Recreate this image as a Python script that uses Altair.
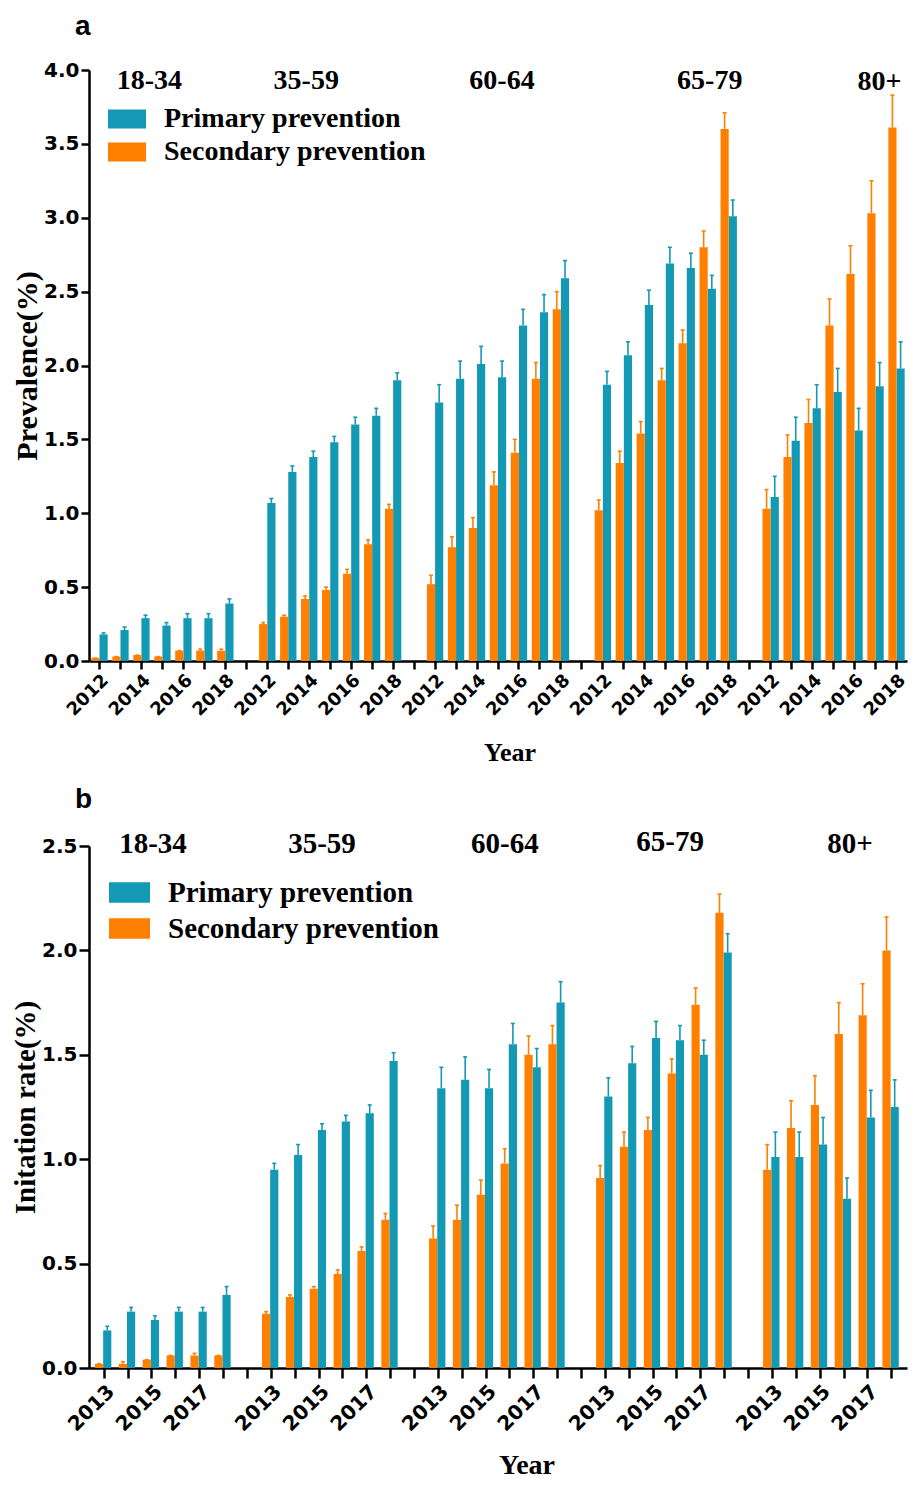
import altair as alt
import pandas as pd

# ---------------- data ----------------
groups = ["18-34", "35-59", "60-64", "65-79", "80+"]
series = ["Primary prevention", "Secondary prevention"]
years_a = [2012, 2013, 2014, 2015, 2016, 2017, 2018]
years_b = [2013, 2014, 2015, 2016, 2017, 2018]

# Panel a: prevalence (%), value and upper end of error bar
a_prim_1834 = [0.18, 0.21, 0.29, 0.24, 0.29, 0.29, 0.39]
a_prim_1834_up = [0.19, 0.23, 0.31, 0.26, 0.32, 0.32, 0.42]
a_sec_1834 = [0.02, 0.03, 0.04, 0.03, 0.07, 0.07, 0.07]
a_sec_1834_up = [0.02, 0.03, 0.04, 0.03, 0.07, 0.08, 0.08]

a_prim_3559 = [1.07, 1.28, 1.38, 1.48, 1.60, 1.66, 1.90]
a_prim_3559_up = [1.10, 1.32, 1.42, 1.52, 1.65, 1.71, 1.95]
a_sec_3559 = [0.25, 0.30, 0.42, 0.48, 0.59, 0.79, 1.03]
a_sec_3559_up = [0.26, 0.31, 0.44, 0.50, 0.62, 0.82, 1.06]

a_prim_6064 = [1.75, 1.91, 2.01, 1.92, 2.27, 2.36, 2.59]
a_prim_6064_up = [1.87, 2.03, 2.13, 2.03, 2.38, 2.48, 2.71]
a_sec_6064 = [0.52, 0.77, 0.90, 1.19, 1.41, 1.91, 2.38]
a_sec_6064_up = [0.58, 0.84, 0.97, 1.28, 1.50, 2.02, 2.50]

a_prim_6579 = [1.87, 2.07, 2.41, 2.69, 2.66, 2.52, 3.01]
a_prim_6579_up = [1.96, 2.16, 2.51, 2.80, 2.76, 2.61, 3.12]
a_sec_6579 = [1.02, 1.34, 1.54, 1.90, 2.15, 2.80, 3.60]
a_sec_6579_up = [1.09, 1.42, 1.62, 1.98, 2.24, 2.91, 3.71]

a_prim_80 = [1.11, 1.49, 1.71, 1.82, 1.56, 1.86, 1.98]
a_prim_80_up = [1.25, 1.65, 1.87, 1.98, 1.71, 2.02, 2.16]
a_sec_80 = [1.03, 1.38, 1.61, 2.27, 2.62, 3.03, 3.61]
a_sec_80_up = [1.16, 1.53, 1.77, 2.45, 2.81, 3.25, 3.83]

# Panel b: initiation rate (%)
b_prim_1834 = [0.18, 0.27, 0.23, 0.27, 0.27, 0.35]
b_prim_1834_up = [0.20, 0.29, 0.25, 0.29, 0.29, 0.39]
b_sec_1834 = [0.02, 0.02, 0.04, 0.06, 0.06, 0.06]
b_sec_1834_up = [0.02, 0.03, 0.04, 0.06, 0.07, 0.06]

b_prim_3559 = [0.95, 1.02, 1.14, 1.18, 1.22, 1.47]
b_prim_3559_up = [0.98, 1.07, 1.17, 1.21, 1.26, 1.51]
b_sec_3559 = [0.26, 0.34, 0.38, 0.45, 0.56, 0.71]
b_sec_3559_up = [0.27, 0.35, 0.39, 0.47, 0.58, 0.74]

b_prim_6064 = [1.34, 1.38, 1.34, 1.55, 1.44, 1.75]
b_prim_6064_up = [1.44, 1.49, 1.43, 1.65, 1.53, 1.85]
b_sec_6064 = [0.62, 0.71, 0.83, 0.98, 1.50, 1.55]
b_sec_6064_up = [0.68, 0.78, 0.90, 1.05, 1.59, 1.64]

b_prim_6579 = [1.30, 1.46, 1.58, 1.57, 1.50, 1.99]
b_prim_6579_up = [1.39, 1.54, 1.66, 1.64, 1.57, 2.08]
b_sec_6579 = [0.91, 1.06, 1.14, 1.41, 1.74, 2.18]
b_sec_6579_up = [0.97, 1.13, 1.20, 1.48, 1.82, 2.27]

b_prim_80 = [1.01, 1.01, 1.07, 0.81, 1.20, 1.25]
b_prim_80_up = [1.13, 1.13, 1.20, 0.91, 1.33, 1.38]
b_sec_80 = [0.95, 1.15, 1.26, 1.60, 1.69, 2.00]
b_sec_80_up = [1.07, 1.28, 1.40, 1.75, 1.84, 2.16]

# ---------------- styling ----------------
BLUE = "#1399B4"
ORANGE = "#FF8000"
SANS = "DejaVu Sans"
SERIF = "Liberation Serif"


def build(years, prim, prim_up, sec, sec_up):
    rows, domain = [], []
    for gi, g in enumerate(groups):
        if gi > 0:
            domain.append(f"gap{gi}")
        for yi, yr in enumerate(years):
            key = f"{g}|{yr}"
            domain.append(key)
            rows.append(dict(key=key, series=series[0], value=prim[gi][yi], upper=prim_up[gi][yi]))
            rows.append(dict(key=key, series=series[1], value=sec[gi][yi], upper=sec_up[gi][yi]))
    return pd.DataFrame(rows), domain


df_a, dom_a = build(
    years_a,
    [a_prim_1834, a_prim_3559, a_prim_6064, a_prim_6579, a_prim_80],
    [a_prim_1834_up, a_prim_3559_up, a_prim_6064_up, a_prim_6579_up, a_prim_80_up],
    [a_sec_1834, a_sec_3559, a_sec_6064, a_sec_6579, a_sec_80],
    [a_sec_1834_up, a_sec_3559_up, a_sec_6064_up, a_sec_6579_up, a_sec_80_up],
)
df_b, dom_b = build(
    years_b,
    [b_prim_1834, b_prim_3559, b_prim_6064, b_prim_6579, b_prim_80],
    [b_prim_1834_up, b_prim_3559_up, b_prim_6064_up, b_prim_6579_up, b_prim_80_up],
    [b_sec_1834, b_sec_3559, b_sec_6064, b_sec_6579, b_sec_80],
    [b_sec_1834_up, b_sec_3559_up, b_sec_6064_up, b_sec_6579_up, b_sec_80_up],
)

cscale = alt.Scale(domain=series, range=[BLUE, ORANGE])


def panel(df, domain, first_year, ymax, yvalues, width, height, letter, ytitle, s):
    label_expr = (
        "indexof(datum.value, '|') < 0 ? '' : "
        f"((toNumber(slice(datum.value, -4)) - {first_year}) % 2 == 0 ? slice(datum.value, -4) : '')"
    )
    x = alt.X(
        "key:N",
        sort=domain,
        title=None,
        scale=alt.Scale(domain=domain, paddingInner=0.22, paddingOuter=s["pad_outer"]),
        axis=alt.Axis(
            title=None,
            labelExpr=label_expr,
            labelAngle=-45,
            labelFont=SANS,
            labelFontWeight="bold",
            labelFontSize=s["xlab"],
            labelColor="black",
            labelOverlap=False,
            labelPadding=s["xlab_pad"],
            tickSize=s["xtick"],
            tickWidth=2.5,
            tickColor="black",
            domainWidth=2.5,
            domainColor="black",
        ),
    )
    xo = alt.XOffset("series:N", scale=alt.Scale(domain=[series[1], series[0]]))
    yscale = alt.Scale(domain=[0, ymax], nice=False)
    yaxis = alt.Axis(
        values=yvalues,
        format=".1f",
        grid=False,
        labelFont=SANS,
        labelFontWeight="bold",
        labelFontSize=20,
        labelColor="black",
        labelPadding=2,
        tickSize=s["ytick"],
        tickWidth=2.5,
        tickColor="black",
        domainWidth=2.5,
        domainColor="black",
        titleFont=SERIF,
        titleFontWeight="bold",
        titleFontSize=s["ytitle"],
        titleColor="black",
        titlePadding=s["ytitle_pad"],
    )
    y = alt.Y("value:Q", scale=yscale, axis=yaxis, title=ytitle)
    y_up = alt.Y("upper:Q", scale=yscale, axis=yaxis, title=ytitle)
    base = alt.Chart(df)
    bars = base.mark_bar(opacity=1).encode(
        x=x,
        xOffset=xo,
        y=y,
        color=alt.Color(
            "series:N",
            scale=cscale,
            legend=alt.Legend(
                title=None,
                orient="none",
                legendX=s["legx"],
                legendY=s["legy"],
                direction="vertical",
                symbolType="M-1,-0.5H1V0.5H-1Z",
                symbolSize=s["symsize"],
                symbolStrokeWidth=0,
                symbolOpacity=1,
                labelFont=SERIF,
                labelFontWeight="bold",
                labelFontSize=s["leglab"],
                labelColor="black",
                labelOffset=s["labeloff"],
                labelLimit=600,
                rowPadding=s["rowpad"],
                padding=0,
            ),
        ),
    )
    rules = base.mark_rule(strokeWidth=1.6, opacity=1).encode(
        x=x,
        xOffset=xo,
        y=y,
        y2="upper:Q",
        stroke=alt.Stroke("series:N", scale=cscale, legend=None),
    )
    caps = base.mark_tick(size=4, thickness=1.6, opacity=1).encode(
        x=x,
        xOffset=xo,
        y=y_up,
        fill=alt.Fill("series:N", scale=cscale, legend=None),
    )
    layers = [bars, rules, caps]
    for txt, anchor_year, dx, ypx in s["glabels"]:
        layers.append(
            alt.Chart(pd.DataFrame({"t": [txt]}))
            .mark_text(
                font=SERIF,
                fontWeight="bold",
                fontSize=s["glab"],
                color="black",
                baseline="alphabetic",
                align="center",
                dx=dx,
            )
            .encode(x=alt.datum(f"{txt}|{anchor_year}"), y=alt.value(ypx), text="t:N")
        )
    # x-axis title "Year"
    layers.append(
        alt.Chart(pd.DataFrame({"t": ["Year"]}))
        .mark_text(
            font=SERIF,
            fontWeight="bold",
            fontSize=s["xtitle"],
            color="black",
            baseline="alphabetic",
            align="center",
        )
        .encode(x=alt.value(s["xtitle_x"]), y=alt.value(height + s["xtitle_dy"]), text="t:N")
    )
    return alt.layer(*layers).properties(
        width=width,
        height=height,
        title=alt.TitleParams(
            letter,
            anchor="start",
            frame="group",
            font="Liberation Sans",
            fontWeight="bold",
            fontSize=28,
            color="black",
            dx=-14,
            offset=s["title_off"],
        ),
    )


style_a = dict(
    pad_outer=0.11, xlab=18, xlab_pad=2, xtick=8, xtitle=26, xtitle_x=421, xtitle_dy=100,
    ytick=8, ytitle=30, ytitle_pad=1, legx=19, legy=30, symsize=1444, leglab=28,
    labeloff=18, rowpad=0, glab=28, title_off=19,
    glabels=[("18-34", 2014, 8, 19), ("35-59", 2014, -3, 19), ("60-64", 2015, 4, 19),
             ("65-79", 2017, 2, 19), ("80+", 2017, 4, 20)],
)
style_b = dict(
    pad_outer=0.25, xlab=20, xlab_pad=3, xtick=10, xtitle=28, xtitle_x=438, xtitle_dy=106,
    ytick=10, ytitle=29, ytitle_pad=1, legx=20, legy=26, symsize=1681, leglab=29,
    labeloff=18, rowpad=0, glab=29, title_off=14,
    glabels=[("18-34", 2015, 1, 7), ("35-59", 2015, 3, 7), ("60-64", 2016, -5, 7),
             ("65-79", 2015, 17, 5), ("80+", 2016, 6, 7)],
)

panel_a = panel(df_a, dom_a, 2012, 4.0, [0, 0.5, 1, 1.5, 2, 2.5, 3, 3.5, 4],
                818, 591, "a", "Prevalence(%)", style_a)
panel_b = panel(df_b, dom_b, 2013, 2.5, [0, 0.5, 1, 1.5, 2, 2.5],
                818, 522, "b", "Initation rate(%)", style_b)

chart = (
    alt.vconcat(panel_a, panel_b, spacing=20)
    .resolve_scale(color="independent", stroke="independent", fill="independent")
    .properties(padding={"left": 3, "top": 5, "right": 0, "bottom": 0}, background="white")
    .configure_view(stroke=None)
)

chart.save("out.html", embed_options={"renderer": "svg", "actions": False})
